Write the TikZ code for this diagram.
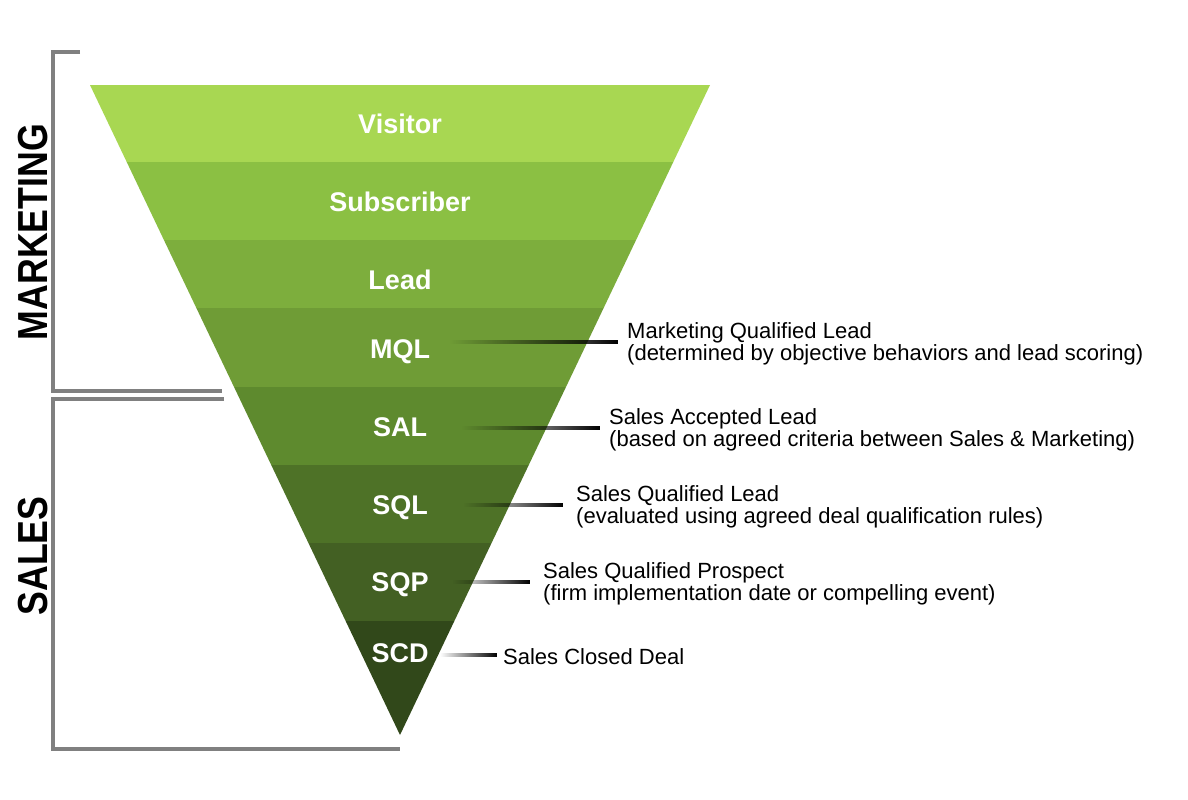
\documentclass[tikz,border=0pt]{standalone}
\usepackage{fontspec}
\setmainfont{Liberation Sans}
\usetikzlibrary{positioning,calc,fadings}

\definecolor{visitorc}{HTML}{A8D752}
\definecolor{subc}{HTML}{8BC043}
\definecolor{leadc}{HTML}{7DAE3D}
\definecolor{mqlc}{HTML}{6F9C36}
\definecolor{salc}{HTML}{5E8A2E}
\definecolor{sqlc}{HTML}{4E7227}
\definecolor{sqpc}{HTML}{436023}
\definecolor{scdc}{HTML}{31481A}
\definecolor{bracketgray}{HTML}{808080}

\tikzfading[name=fadein, left color=transparent!100, middle color=transparent!25, right color=transparent!0]

\tikzset{
  stage/.style={text=white, font=\fontsize{27}{27}\selectfont\bfseries, inner sep=0pt, text depth=0pt},
  info/.style={font=\fontsize{22}{22}\selectfont, align=left, inner sep=0pt, yshift=-2pt},
  side/.style={font=\fontsize{42}{42}\selectfont\bfseries, rotate=90, inner sep=0pt},
  bracket/.style={draw=bracketgray, line width=4pt},
  conn/.style={fill=black, path fading=fadein}
}

\begin{document}
\begin{tikzpicture}[x=1pt,y=-1pt]

\useasboundingbox (0,0) rectangle (1188,800);
\fill[white] (0,0) rectangle (1188,800);

% FUNNEL
\begin{scope}
  \clip (90,85) -- (710,85) -- (400,735) -- cycle;
  \foreach \ya/\yb/\col in {85/162/visitorc, 162/240/subc, 240/308/leadc, 308/387/mqlc,
                            387/465/salc, 465/543/sqlc, 543/621/sqpc, 621/736/scdc}
    \fill[\col] (80,\ya) rectangle (720,\yb);
\end{scope}

% STAGES
\foreach \nm/\yy/\txt in {visitor/124/Visitor, subscriber/202/Subscriber, lead/280/Lead,
                          mql/349/MQL, sal/427/SAL, sql/505/SQL, sqp/582/SQP, scd/653/SCD}
  \node[stage] (\nm) at (400,\yy) {\txt};

% BRACKETS
\draw[bracket] (80,52) -- (53,52) -- (53,391) -- (222,391);
\draw[bracket] (224,399) -- (53,399) -- (53,749) -- (400,749);
\node[side] (marketing) at (33,232) {\scalebox{0.85}[1]{MARKETING}};
\node[side] (sales) at (33,556) {\scalebox{0.85}[1]{SALES}};

% CONNECTORS
\coordinate (mqlA) at (450,342);  \coordinate (mqlB) at (618,342);
\coordinate (salA) at (462,428);  \coordinate (salB) at (600,428);
\coordinate (sqlA) at (463,505);  \coordinate (sqlB) at (563,505);
\coordinate (sqpA) at (452,582);  \coordinate (sqpB) at (530,582);
\coordinate (scdA) at (440,655);  \coordinate (scdB) at (497,655);

\foreach \st in {mql, sal, sql, sqp, scd}
  \fill[conn] ($(\st A)+(0,-2)$) rectangle ($(\st B)+(0,2)$);

% DESCRIPTIONS
\node[info, right=9pt of mqlB] (mqlD) {Marketing Qualified Lead\\(determined by objective behaviors and lead scoring)};
\node[info, right=9pt of salB] (salD) {Sales Accepted Lead\\(based on agreed criteria between Sales \& Marketing)};
\node[info, right=13pt of sqlB] (sqlD) {Sales Qualified Lead\\(evaluated using agreed deal qualification rules)};
\node[info, right=13pt of sqpB] (sqpD) {Sales Qualified Prospect\\(firm implementation date or compelling event)};
\node[info, right=6pt of scdB] (scdD) {Sales Closed Deal};

\end{tikzpicture}
\end{document}
